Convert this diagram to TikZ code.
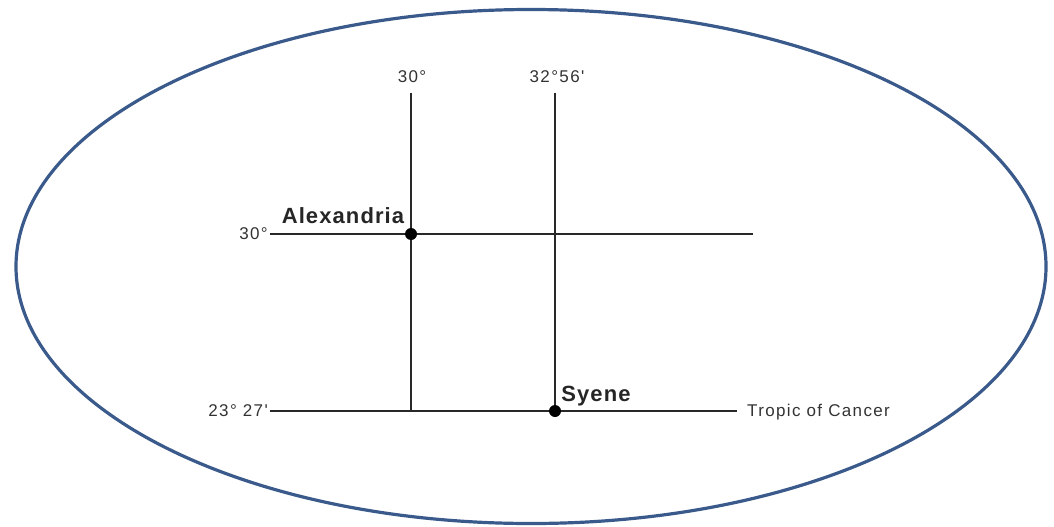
\documentclass[tikz,border=0pt]{standalone}
\usepackage{fontspec}
\usetikzlibrary{shapes.geometric}
\setmainfont{Liberation Sans}
\newfontfamily\degfont[LetterSpace=8]{Liberation Sans}
\newfontfamily\cityfont[LetterSpace=5]{Liberation Sans}
\definecolor{ellblue}{RGB}{59,90,140}
\definecolor{linegray}{RGB}{40,40,40}
\begin{document}
\begin{tikzpicture}[x=1pt,y=-1pt,
  grid/.style={draw=linegray,line width=1.6pt},
  deg/.style={inner sep=0pt,font=\degfont\fontsize{17}{17}\selectfont,text=black!80},
  city/.style={inner sep=0pt,font=\cityfont\fontsize{22}{22}\selectfont\bfseries,text=black!85},
  dot/.style={circle,fill=black,inner sep=0pt,minimum size=12pt}]
\useasboundingbox (0,0) rectangle (1054,527);
\node[draw=ellblue,line width=3.2pt,ellipse,minimum width=1030pt,minimum height=514pt,inner sep=0pt] (ell) at (531,266.5) {};
% coordinates
\coordinate (v1t) at (411,93);
\coordinate (v1b) at (411,411);
\coordinate (v2t) at (555,93);
\coordinate (v2b) at (555,411);
\coordinate (h1l) at (270,234);
\coordinate (h1r) at (753,234);
\coordinate (h2l) at (270,411);
\coordinate (h2r) at (737,411);
\draw[grid] (v1t) -- (v1b);
\draw[grid] (v2t) -- (v2b);
\draw[grid] (h1l) -- (h1r);
\draw[grid] (h2l) -- (h2r);
\node[dot] (alex) at (411,234) {};
\node[dot] (syene) at (555,411) {};
\node[deg] (l30t) at (412,77) {30°};
\node[deg] (l32) at (557,77) {32°56'};
\node[deg,anchor=east] (l30l) at (268,234) {30°};
\node[deg,anchor=east] (l23) at (268,411) {23° 27'};
\node[city] (alexlab) at (343,216) {Alexandria};
\node[city] (syenelab) at (596,396) {Syene};
\node[deg,anchor=west] (tropic) at (747,412) {Tropic of Cancer};
\end{tikzpicture}
\end{document}
